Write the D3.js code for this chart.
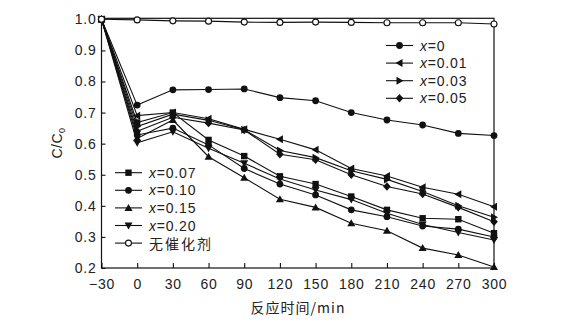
<!DOCTYPE html>
<html><head><meta charset="utf-8">
<script src="https://cdn.jsdelivr.net/npm/d3@7"></script>
<style>
body{margin:0;background:#fff;}
svg text{font-family:"Liberation Sans",Arial,sans-serif;fill:#222;}
</style></head>
<body><svg id="c" width="571" height="324"></svg>
<script>
const times = [-30, 0, 30, 60, 90, 120, 150, 180, 210, 240, 270, 300];
const xTicks = [-30, 0, 30, 60, 90, 120, 150, 180, 210, 240, 270, 300];
const yTicks = [0.2, 0.3, 0.4, 0.5, 0.6, 0.7, 0.8, 0.9, 1.0];
const seriesNames = ["x=0", "x=0.01", "x=0.03", "x=0.05", "x=0.07", "x=0.10", "x=0.15", "x=0.20", "无催化剂"];
const s_x000 = [1.0, 0.724, 0.773, 0.774, 0.776, 0.748, 0.738, 0.700, 0.676, 0.660, 0.633, 0.626];
const s_x001 = [1.0, 0.690, 0.700, 0.680, 0.646, 0.614, 0.580, 0.520, 0.496, 0.460, 0.437, 0.397];
const s_x003 = [1.0, 0.655, 0.695, 0.675, 0.645, 0.578, 0.555, 0.513, 0.485, 0.446, 0.400, 0.363];
const s_x005 = [1.0, 0.640, 0.685, 0.666, 0.644, 0.566, 0.548, 0.500, 0.462, 0.438, 0.395, 0.349];
const s_x007 = [1.0, 0.668, 0.700, 0.612, 0.560, 0.495, 0.470, 0.430, 0.387, 0.360, 0.357, 0.312];
const s_x010 = [1.0, 0.628, 0.650, 0.596, 0.520, 0.470, 0.435, 0.387, 0.365, 0.335, 0.325, 0.300];
const s_x015 = [1.0, 0.617, 0.676, 0.558, 0.490, 0.421, 0.395, 0.344, 0.320, 0.264, 0.242, 0.203];
const s_x020 = [1.0, 0.603, 0.638, 0.585, 0.537, 0.486, 0.451, 0.420, 0.376, 0.340, 0.314, 0.290];
const s_none = [1.0, 0.998, 0.995, 0.994, 0.991, 0.990, 0.991, 0.990, 0.989, 0.989, 0.989, 0.985];

const allSeries = [s_x000, s_x001, s_x003, s_x005, s_x007, s_x010, s_x015, s_x020, s_none];
const markerTypes = ["circle", "left", "right", "diamond", "square", "circle", "up", "down", "open"];

const svg = d3.select("#c");
const L = 101.5, R = 494, T = 19.3, B = 268;
const x = d3.scaleLinear().domain([-30, 300]).range([L, R]);
const y = d3.scaleLinear().domain([0.2, 1.0]).range([B, T]);

// frame
svg.append("rect").attr("x", L).attr("y", T - 1).attr("width", R - L).attr("height", B - T + 1)
  .attr("fill", "none").attr("stroke", "#111").attr("stroke-width", 1.2);

// axes
const xa = svg.append("g").attr("transform", `translate(0,${B})`)
  .call(d3.axisBottom(x).tickValues(xTicks).tickSizeInner(-5).tickSizeOuter(0).tickPadding(11)
    .tickFormat(d => d < 0 ? "\u2212" + Math.abs(d) : d));
const ya = svg.append("g").attr("transform", `translate(${L},0)`)
  .call(d3.axisLeft(y).tickValues(yTicks).tickSizeInner(-4).tickSizeOuter(0).tickPadding(5)
    .tickFormat(d3.format(".1f")));
[xa, ya].forEach(g => {
  g.select(".domain").remove();
  g.selectAll("line").attr("stroke", "#111").attr("stroke-width", 1.1);
  g.selectAll("text").style("font-family", '"Liberation Sans",Arial,sans-serif')
    .style("font-size", "14px").style("letter-spacing", "0.8px").attr("fill", "#222");
});
xa.selectAll("text").attr("dy", "0.71em");

// axis titles
const yl = svg.append("text").attr("transform", "translate(62,143) rotate(-90)")
  .attr("text-anchor", "middle").style("font-size", "14px").style("letter-spacing", "0.5px");
yl.append("tspan").text("C/C");
yl.append("tspan").attr("font-size", "9px").attr("dy", "3").text("0");

svg.append("text").attr("x", 298).attr("y", 313).attr("text-anchor", "middle")
  .style("font-size", "14px").style("letter-spacing", "1px")
  .style("font-family", '"Noto Sans CJK SC","Liberation Sans",sans-serif')
  .text("反应时间/min");

function marker(g, type, cx, cy) {
  const s = 3.3;
  let p;
  switch (type) {
    case "circle": return g.append("circle").attr("cx", cx).attr("cy", cy).attr("r", 3.4).attr("fill", "#111");
    case "open": return g.append("circle").attr("cx", cx).attr("cy", cy).attr("r", 3).attr("fill", "#fff").attr("stroke", "#111").attr("stroke-width", 1.1);
    case "square": return g.append("rect").attr("x", cx - 3.2).attr("y", cy - 3.2).attr("width", 6.4).attr("height", 6.4).attr("fill", "#111");
    case "up": p = [[cx, cy - 4], [cx + 4, cy + 3], [cx - 4, cy + 3]]; break;
    case "down": p = [[cx, cy + 4], [cx + 4, cy - 3], [cx - 4, cy - 3]]; break;
    case "left": p = [[cx - 4, cy], [cx + 3, cy - 4], [cx + 3, cy + 4]]; break;
    case "right": p = [[cx + 4, cy], [cx - 3, cy - 4], [cx - 3, cy + 4]]; break;
    case "diamond": p = [[cx, cy - 4.2], [cx + 3.8, cy], [cx, cy + 4.2], [cx - 3.8, cy]]; break;
  }
  return g.append("polygon").attr("points", p.map(d => d.join(",")).join(" ")).attr("fill", "#111");
}

const line = d3.line().x((d, i) => x(times[i])).y(d => y(d));
const plot = svg.append("g");
allSeries.forEach((s, k) => {
  plot.append("path").attr("d", line(s)).attr("fill", "none").attr("stroke", "#111").attr("stroke-width", 1.1);
});
allSeries.forEach((s, k) => {
  s.forEach((v, i) => marker(plot, markerTypes[k], x(times[i]), y(v)));
});

// legends
function legendItem(idx, lx, ly) {
  const g = svg.append("g");
  g.append("line").attr("x1", lx).attr("x2", lx + 27).attr("y1", ly).attr("y2", ly).attr("stroke", "#111").attr("stroke-width", 1.1);
  marker(g, markerTypes[idx], lx + 13.5, ly);
  const name = seriesNames[idx];
  const t = g.append("text").attr("x", lx + 34).attr("y", ly + 5).style("font-size", "14px").style("letter-spacing", "0.8px");
  if (name.startsWith("x=")) {
    t.append("tspan").attr("font-style", "italic").text("x");
    t.append("tspan").text(name.slice(1));
  } else {
    t.style("font-family", '"Noto Sans CJK SC",sans-serif').style("letter-spacing", "2px").attr("y", ly + 5.5).text(name);
  }
}
[0, 1, 2, 3].forEach((k, i) => legendItem(k, 386, 45.5 + i * 17.6));
[4, 5, 6, 7, 8].forEach((k, i) => legendItem(k, 115, 172.7 + i * 17.6));
</script></body></html>
